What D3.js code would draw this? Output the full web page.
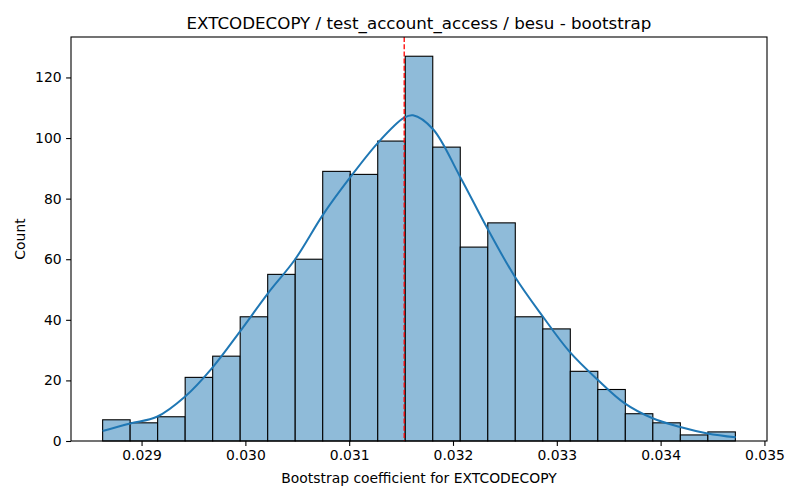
<!DOCTYPE html>
<html>
<head>
<meta charset="utf-8">
<script src="https://cdn.jsdelivr.net/npm/d3@7"></script>
<style>
body{margin:0;background:#fff;}
svg text{font-family:"DejaVu Sans",sans-serif;fill:#000;}
.tick line{stroke:#000;stroke-width:1.1px;}
.domain{stroke:none;}
</style>
</head>
<body>
<div id="chart"></div>
<script>
'use strict';
// histogram bins (23 equal bins between binStart and binEnd)
var binStart = 0.028625;
var binEnd = 0.03472;
var counts = [7, 6, 8, 21, 28, 41, 55, 60, 89, 88, 99, 127, 97, 64, 72, 41, 37, 23, 17, 9, 6, 2, 3];

// kde curve (x value, count)
var kdeX = [0.028625, 0.028891, 0.029148, 0.029420, 0.029677, 0.029949, 0.030221, 0.030478,
    0.030750, 0.031007, 0.031279, 0.031529, 0.031615, 0.031808, 0.032064, 0.032337,
    0.032593, 0.032865, 0.033122, 0.033394, 0.033651, 0.033923, 0.034179, 0.034452, 0.034725];
var kdeY = [3.3, 5.8, 8.0, 14.7, 24.0, 36.2, 48.9, 59.9,
    74.8, 86.9, 98.5, 106.7, 107.5, 102.9, 87.5, 69.8,
    54.4, 41.1, 29.5, 20.2, 12.5, 7.5, 4.7, 2.5, 1.2];

var meanValue = 0.03153;
var xTicks = [0.029, 0.030, 0.031, 0.032, 0.033, 0.034, 0.035];
var yTicks = [0, 20, 40, 60, 80, 100, 120];
var titleText = "EXTCODECOPY / test_account_access / besu - bootstrap";
var xLabel = "Bootstrap coefficient for EXTCODECOPY";
var yLabel = "Count";

var W = 800, H = 500;
var margin = {top: 37, right: 33, bottom: 59, left: 71};
var width = W - margin.left - margin.right,
    height = H - margin.top - margin.bottom;

var binW = (binEnd - binStart) / counts.length;
var pad = (binEnd - binStart) * 0.05;
var x = d3.scaleLinear().domain([binStart - pad, binEnd + pad]).range([0, width]);
var y = d3.scaleLinear().domain([0, d3.max(counts) * 1.05]).range([height, 0]);

var svg = d3.select("#chart").append("svg")
    .attr("width", W)
    .attr("height", H)
    .append("g")
    .attr("transform", "translate(" + margin.left + "," + margin.top + ")");

svg.append("defs").append("clipPath").attr("id", "clip")
    .append("rect").attr("width", width).attr("height", height);

// bars
svg.selectAll("rect.bar")
    .data(counts)
    .enter().append("rect")
    .attr("class", "bar")
    .attr("x", function(d, i) { return x(binStart + i * binW); })
    .attr("width", function(d, i) { return x(binStart + (i + 1) * binW) - x(binStart + i * binW); })
    .attr("y", function(d) { return y(d); })
    .attr("height", function(d) { return y(0) - y(d); })
    .attr("fill", "#8fbbd9")
    .attr("stroke", "#000")
    .attr("stroke-width", 1.1);

// kde line
var kdeLine = d3.line()
    .x(function(d) { return x(d[0]); })
    .y(function(d) { return y(d[1]); })
    .curve(d3.curveCatmullRom);
svg.append("path")
    .datum(d3.zip(kdeX, kdeY))
    .attr("fill", "none")
    .attr("stroke", "#1f77b4")
    .attr("stroke-width", 2)
    .attr("d", kdeLine);

// mean line
svg.append("line")
    .attr("clip-path", "url(#clip)")
    .attr("x1", x(meanValue)).attr("x2", x(meanValue))
    .attr("y1", 0).attr("y2", height)
    .attr("stroke", "red")
    .attr("stroke-width", 1.3)
    .attr("stroke-dasharray", "5,2.2");

// axes
svg.append("g")
    .attr("transform", "translate(0," + height + ")")
    .call(d3.axisBottom(x).tickValues(xTicks).tickFormat(d3.format(".3f")).tickSizeOuter(0).tickSize(4.9).tickPadding(4.5));
svg.append("g")
    .call(d3.axisLeft(y).tickValues(yTicks).tickSizeOuter(0).tickSize(4.9).tickPadding(4.5));
svg.selectAll(".tick text").style("font-size", "13.9px");

// frame
svg.append("rect")
    .attr("width", width).attr("height", height)
    .attr("fill", "none").attr("stroke", "#000").attr("stroke-width", 1.1);

// labels
svg.append("text")
    .attr("x", width / 2).attr("y", -8)
    .attr("text-anchor", "middle")
    .style("font-size", "16.7px")
    .text(titleText);
svg.append("text")
    .attr("x", width / 2).attr("y", height + 42)
    .attr("text-anchor", "middle")
    .style("font-size", "13.9px")
    .text(xLabel);
svg.append("text")
    .attr("transform", "translate(-46," + (height / 2) + ") rotate(-90)")
    .attr("text-anchor", "middle")
    .style("font-size", "13.9px")
    .text(yLabel);
</script>
</body>
</html>
